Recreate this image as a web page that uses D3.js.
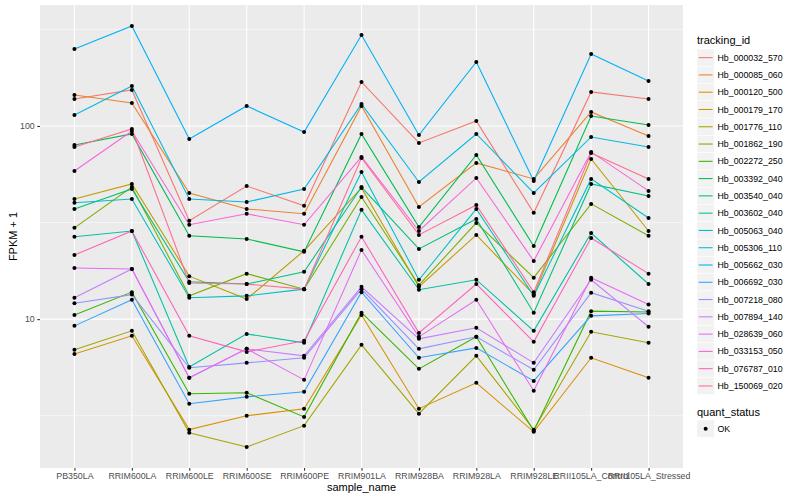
<!DOCTYPE html>
<html>
<head>
<meta charset="utf-8">
<script src="https://cdn.jsdelivr.net/npm/d3@7"></script>
<style>
  body { margin: 0; background: #fff; }
  text { font-family: "Liberation Sans", Arial, Helvetica, sans-serif; }
</style>
</head>
<body>
<div id="chart"></div>
<script>
// samples on the x axis
var samples = ["PB350LA", "RRIM600LA", "RRIM600LE", "RRIM600SE", "RRIM600PE", "RRIM901LA",
    "RRIM928BA", "RRIM928LA", "RRIM928LE", "RRII105LA_Control", "RRII105LA_Stressed"];

var trackingIds = ["Hb_000032_570", "Hb_000085_060", "Hb_000120_500", "Hb_000179_170", "Hb_001776_110",
    "Hb_001862_190", "Hb_002272_250", "Hb_003392_040", "Hb_003540_040", "Hb_003602_040",
    "Hb_005063_040", "Hb_005306_110", "Hb_005662_030", "Hb_006692_030", "Hb_007218_080",
    "Hb_007894_140", "Hb_028639_060", "Hb_033153_050", "Hb_076787_010", "Hb_150069_020"];

// FPKM + 1, one row per tracking id (same order), one value per sample
var fpkm = [
    [137.9, 153.6, 32.3, 48.9, 38.6, 168.9, 81.7, 106.1, 35.5, 150.0, 137.9],
    [144.7, 131.5, 45.0, 37.2, 35.1, 126.9, 38.1, 64.4, 53.2, 118.1, 88.8],
    [6.61, 8.20, 2.68, 3.16, 3.44, 10.5, 3.44, 4.68, 2.61, 6.31, 4.97],
    [41.9, 50.1, 16.7, 12.7, 22.6, 47.8, 14.7, 27.3, 13.4, 67.5, 28.6],
    [6.94, 8.70, 2.58, 2.18, 2.81, 7.36, 3.24, 6.46, 2.68, 8.60, 7.54],
    [29.7, 48.3, 13.2, 17.2, 14.3, 42.9, 15.0, 31.5, 16.4, 39.5, 27.0],
    [10.5, 13.8, 4.11, 4.16, 3.12, 10.8, 5.53, 8.10, 2.64, 11.0, 10.9],
    [79.7, 90.9, 27.0, 26.0, 22.3, 90.9, 30.0, 70.8, 23.9, 112.6, 101.2],
    [37.2, 47.2, 15.6, 15.2, 17.6, 48.3, 23.1, 33.0, 10.8, 50.1, 43.4],
    [26.7, 28.6, 5.66, 8.39, 7.54, 36.8, 14.2, 16.0, 8.70, 27.9, 15.2],
    [40.0, 41.9, 12.9, 13.2, 14.3, 57.8, 16.0, 37.2, 13.2, 53.2, 33.4],
    [114.0, 161.0, 41.9, 40.4, 47.2, 130.0, 51.3, 90.9, 45.0, 87.7, 77.9],
    [250.3, 329.0, 85.6, 126.9, 93.1, 295.7, 89.8, 214.4, 51.9, 235.8, 170.9],
    [9.23, 12.6, 3.65, 3.96, 4.21, 13.8, 6.31, 7.10, 4.79, 10.4, 10.7],
    [12.1, 13.4, 5.60, 5.94, 6.31, 14.3, 7.02, 8.10, 5.47, 13.7, 11.0],
    [12.9, 18.2, 4.97, 7.02, 6.46, 14.7, 7.91, 9.02, 5.94, 16.0, 9.13],
    [18.4, 18.2, 4.97, 7.02, 4.85, 22.8, 8.10, 12.6, 4.26, 16.4, 11.9],
    [58.5, 94.2, 30.8, 35.1, 30.8, 69.1, 28.6, 53.8, 20.0, 73.4, 46.1],
    [21.5, 28.6, 8.20, 6.77, 7.72, 26.7, 8.49, 15.2, 7.63, 26.3, 17.2],
    [77.9, 96.5, 15.4, 15.2, 14.3, 68.3, 27.3, 39.0, 13.8, 72.5, 53.2]
];

var yTicks = [10, 100];
var yMinor = [Math.sqrt(10), Math.sqrt(1000), Math.sqrt(100000)];
var quantStatus = ["OK"];

// ggplot2 default hue palette for 20 levels
var palette = ["#F8766D", "#EA8331", "#D89000", "#C09B00", "#A3A500", "#7CAE00", "#39B600",
    "#00BB4E", "#00BF7D", "#00C1A3", "#00BFC4", "#00BAE0", "#00B0F6", "#35A2FF", "#9590FF",
    "#C77CFF", "#E76BF3", "#FA62DB", "#FF62BC", "#FF6C91"];

var width = 800, height = 500;
var panel = { left: 40, top: 5, right: 683, bottom: 468 };

var svg = d3.select("#chart").append("svg")
    .attr("width", width)
    .attr("height", height);

var x = d3.scalePoint()
    .domain(samples)
    .range([panel.left, panel.right])
    .padding(0.6);

// log scale with ggplot's 5% expansion in log space
var logExt = d3.extent(d3.merge(fpkm), function (v) { return Math.log10(v); });
var pad = (logExt[1] - logExt[0]) * 0.05;
var y = d3.scaleLog()
    .domain([Math.pow(10, logExt[0] - pad), Math.pow(10, logExt[1] + pad)])
    .range([panel.bottom, panel.top]);

var color = d3.scaleOrdinal().domain(trackingIds).range(palette);

// panel background + grid
svg.append("rect")
    .attr("x", panel.left).attr("y", panel.top)
    .attr("width", panel.right - panel.left)
    .attr("height", panel.bottom - panel.top)
    .attr("fill", "#EBEBEB");

var grid = svg.append("g");
grid.selectAll("line.minor")
    .data(yMinor.filter(function (v) { return y(v) >= panel.top && y(v) <= panel.bottom; }))
    .enter().append("line")
    .attr("x1", panel.left).attr("x2", panel.right)
    .attr("y1", function (d) { return y(d); }).attr("y2", function (d) { return y(d); })
    .attr("stroke", "#fff").attr("stroke-width", 0.55);
grid.selectAll("line.major")
    .data(yTicks)
    .enter().append("line")
    .attr("x1", panel.left).attr("x2", panel.right)
    .attr("y1", function (d) { return y(d); }).attr("y2", function (d) { return y(d); })
    .attr("stroke", "#fff").attr("stroke-width", 1.1);
grid.selectAll("line.vert")
    .data(samples)
    .enter().append("line")
    .attr("x1", function (d) { return x(d); }).attr("x2", function (d) { return x(d); })
    .attr("y1", panel.top).attr("y2", panel.bottom)
    .attr("stroke", "#fff").attr("stroke-width", 1.1);

// lines
var series = trackingIds.map(function (id, i) {
    return { id: id, values: fpkm[i].map(function (v, j) { return { sample: samples[j], value: v }; }) };
});

var line = d3.line()
    .x(function (d) { return x(d.sample); })
    .y(function (d) { return y(d.value); });

svg.append("g").selectAll("path")
    .data(series)
    .enter().append("path")
    .attr("d", function (d) { return line(d.values); })
    .attr("fill", "none")
    .attr("stroke", function (d) { return color(d.id); })
    .attr("stroke-width", 1.07);

// points
svg.append("g").selectAll("circle")
    .data(d3.merge(series.map(function (s) { return s.values; })))
    .enter().append("circle")
    .attr("cx", function (d) { return x(d.sample); })
    .attr("cy", function (d) { return y(d.value); })
    .attr("r", 2)
    .attr("fill", "#000");

// axes
var xAxis = svg.append("g")
    .attr("transform", "translate(0," + panel.bottom + ")")
    .call(d3.axisBottom(x).tickSize(2.75).tickPadding(2.5));
var yAxis = svg.append("g")
    .attr("transform", "translate(" + panel.left + ",0)")
    .call(d3.axisLeft(y).tickValues(yTicks).tickFormat(d3.format("d")).tickSize(2.75).tickPadding(2.5));

[xAxis, yAxis].forEach(function (a) {
    a.select(".domain").remove();
    a.selectAll(".tick line").attr("stroke", "#333").attr("stroke-width", 1.07);
    a.selectAll(".tick text")
        .attr("fill", "#4D4D4D")
        .style("font-size", "8.8px")
        .style("font-family", "'Liberation Sans', Arial, sans-serif");
});

svg.append("text")
    .attr("x", (panel.left + panel.right) / 2)
    .attr("y", 491)
    .attr("text-anchor", "middle")
    .style("font-size", "11px")
    .text("sample_name");

svg.append("text")
    .attr("transform", "translate(17," + ((panel.top + panel.bottom) / 2) + ") rotate(-90)")
    .attr("text-anchor", "middle")
    .style("font-size", "11px")
    .text("FPKM + 1");

// legend: tracking_id
var legend = svg.append("g").attr("transform", "translate(697,0)");
legend.append("text")
    .attr("x", 0).attr("y", 43.5)
    .style("font-size", "11px")
    .text("tracking_id");

var key = legend.selectAll("g.key")
    .data(trackingIds)
    .enter().append("g")
    .attr("class", "key")
    .attr("transform", function (d, i) { return "translate(0," + (49 + i * 17.28) + ")"; });

key.append("rect")
    .attr("width", 17.28).attr("height", 17.28)
    .attr("fill", "#F2F2F2").attr("stroke", "#fff").attr("stroke-width", 0.5);
key.append("line")
    .attr("x1", 1.7).attr("x2", 15.6)
    .attr("y1", 8.64).attr("y2", 8.64)
    .attr("stroke", function (d) { return color(d); })
    .attr("stroke-width", 1.07);
key.append("text")
    .attr("x", 20.5).attr("y", 8.64)
    .attr("dy", "0.35em")
    .style("font-size", "8.8px")
    .text(function (d) { return d; });

// legend: quant_status
var legend2 = svg.append("g").attr("transform", "translate(697,0)");
legend2.append("text")
    .attr("x", 0).attr("y", 416)
    .style("font-size", "11px")
    .text("quant_status");

var key2 = legend2.selectAll("g.key")
    .data(quantStatus)
    .enter().append("g")
    .attr("transform", function (d, i) { return "translate(0," + (420 + i * 17.28) + ")"; });
key2.append("rect")
    .attr("width", 17.28).attr("height", 17.28)
    .attr("fill", "#F2F2F2").attr("stroke", "#fff").attr("stroke-width", 0.5);
key2.append("circle")
    .attr("cx", 8.64).attr("cy", 8.64).attr("r", 2)
    .attr("fill", "#000");
key2.append("text")
    .attr("x", 20.5).attr("y", 8.64)
    .attr("dy", "0.35em")
    .style("font-size", "8.8px")
    .text(function (d) { return d; });
</script>
</body>
</html>
